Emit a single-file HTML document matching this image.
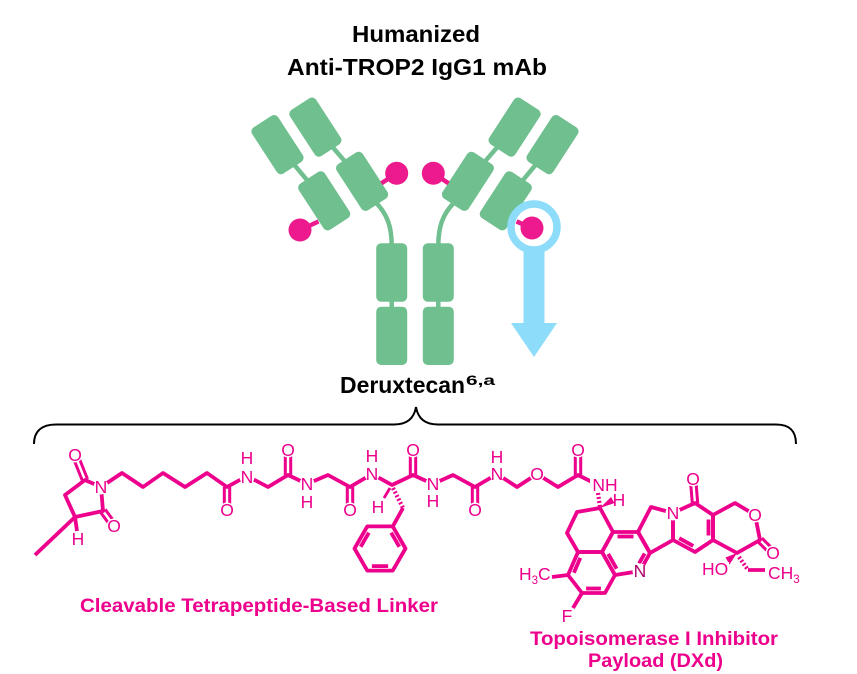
<!DOCTYPE html>
<html><head><meta charset="utf-8"><style>
html,body{margin:0;padding:0;background:#fff;}
svg{display:block;}
text{font-family:"Liberation Sans",Arial,sans-serif;}
</style></head><body>
<svg width="857" height="674" viewBox="0 0 857 674" xmlns="http://www.w3.org/2000/svg">
<rect width="857" height="674" fill="#fff"/>

<!-- Titles -->
<text x="352" y="42" font-size="23" font-weight="bold" fill="#000" textLength="128" lengthAdjust="spacingAndGlyphs">Humanized</text>
<text x="287" y="75" font-size="23" font-weight="bold" fill="#000" textLength="260" lengthAdjust="spacingAndGlyphs">Anti-TROP2 IgG1 mAb</text>

<!-- Antibody -->
<g stroke="#70bf8f" stroke-width="4.5" fill="none">
  <line x1="277.5" y1="144.6" x2="324.2" y2="200.8"/>
  <line x1="315.4" y1="127.1" x2="362.1" y2="181.3"/>
  <line x1="552.5" y1="144.6" x2="505.8" y2="200.8"/>
  <line x1="514.6" y1="127.1" x2="467.9" y2="181.3"/>
  <path d="M376.3,203 C388,215 391.7,228 391.7,246"/>
  <path d="M453.7,203 C442,215 438.3,228 438.3,246"/>
  <line x1="391.7" y1="298" x2="391.7" y2="310"/>
  <line x1="438.3" y1="298" x2="438.3" y2="310"/>
</g>
<g fill="#70bf8f">
  <rect x="-15.5" y="-27.5" width="31" height="55" rx="5" transform="translate(277.5,144.6) rotate(-33)"/>
  <rect x="-15.5" y="-27.5" width="31" height="55" rx="5" transform="translate(315.4,127.1) rotate(-33)"/>
  <rect x="-15.5" y="-27.5" width="31" height="55" rx="5" transform="translate(324.2,200.8) rotate(-33)"/>
  <rect x="-15.5" y="-27.5" width="31" height="55" rx="5" transform="translate(362.1,181.3) rotate(-33)"/>
  <rect x="-15.5" y="-27.5" width="31" height="55" rx="5" transform="translate(552.5,144.6) rotate(33)"/>
  <rect x="-15.5" y="-27.5" width="31" height="55" rx="5" transform="translate(514.6,127.1) rotate(33)"/>
  <rect x="-15.5" y="-27.5" width="31" height="55" rx="5" transform="translate(505.8,200.8) rotate(33)"/>
  <rect x="-15.5" y="-27.5" width="31" height="55" rx="5" transform="translate(467.9,181.3) rotate(33)"/>
  <rect x="376.2" y="243.3" width="31" height="58.4" rx="5"/>
  <rect x="376.2" y="306.7" width="31" height="58.3" rx="5"/>
  <rect x="422.8" y="243.3" width="31" height="58.4" rx="5"/>
  <rect x="422.8" y="306.7" width="31" height="58.3" rx="5"/>
</g>

<!-- Blue arrow -->
<rect x="523.5" y="240" width="21" height="86" fill="#8ddcfa"/>
<polygon points="511,323 557,323 534,357" fill="#8ddcfa"/>
<circle cx="534" cy="227" r="19.5" fill="#fff"/>
<circle cx="534" cy="227" r="23" fill="none" stroke="#8ddcfa" stroke-width="7.5"/>

<!-- Pink payload dots -->
<g stroke="#ec1a8c" stroke-width="4.5">
  <line x1="300" y1="230" x2="318.5" y2="221.5"/>
  <line x1="396.7" y1="173.3" x2="381.5" y2="183.3"/>
  <line x1="433.3" y1="173.3" x2="448.5" y2="183.3"/>
  <line x1="532" y1="228" x2="516.5" y2="221.5"/>
</g>
<g fill="#ec1a8c">
  <circle cx="300" cy="230" r="11.5"/>
  <circle cx="396.7" cy="173.3" r="11.5"/>
  <circle cx="433.3" cy="173.3" r="11.5"/>
  <circle cx="532" cy="228" r="11.5"/>
</g>

<!-- Deruxtecan label -->
<text x="340" y="393" font-size="23" font-weight="bold" fill="#000" textLength="125" lengthAdjust="spacingAndGlyphs">Deruxtecan</text>
<text x="466" y="385" font-size="14" font-weight="bold" fill="#000" textLength="29" lengthAdjust="spacingAndGlyphs">6,a</text>

<!-- Brace -->
<path d="M34,444 C34,431 42,424.5 56,424.5 L394,424.5 C406,424.5 414,419 416,407 C418,419 426,424.5 438,424.5 L776,424.5 C790,424.5 796,431 796,444" fill="none" stroke="#000" stroke-width="2"/>

<!-- Chemical structure -->
<g stroke="#ec008c" stroke-width="3.8" fill="none" stroke-linejoin="round">
  <!-- succinimide ring -->
  <polygon points="85,480 101,487 103,511 75,517 65,495"/>
  <line x1="75" y1="517" x2="35" y2="555"/>
  <line x1="75" y1="517" x2="77" y2="531"/>
  <!-- main chain -->
  <polyline points="101,487 122,473 143,487 163,473 185,487 207,473 227,487 247,476 268,487 288,475 307,484 328,475 350,487 372,474 392,485 413,475 433,484 453,475 475,487 497,474 517,487 537,474 558,487 578,475 598,485"/>
  <!-- phenylalanine side chain -->
  <line x1="403" y1="508" x2="392.75" y2="526.4"/>
  <polygon points="367.25,526.4 392.75,526.4 405.5,548.5 392.75,570.6 367.25,570.6 354.5,548.5"/>
  <line x1="391.15" y1="532.65" x2="399.3" y2="546.75"/>
  <line x1="371.85" y1="566.1" x2="388.15" y2="566.1"/>
  <line x1="360.7" y1="546.75" x2="368.85" y2="532.65"/>
  <line x1="390" y1="488" x2="384" y2="498" stroke-width="2.8"/>
</g>
<g stroke="#ec008c" stroke-width="3" fill="none">
  <!-- carbonyl doubles -->
  <line x1="87.5" y1="479" x2="77.5" y2="454"/>
  <line x1="82.5" y1="481" x2="72.5" y2="456"/>
  <line x1="105.2" y1="509.4" x2="116.2" y2="524.4"/>
  <line x1="100.8" y1="512.6" x2="111.8" y2="527.6"/>
  <line x1="224.3" y1="487" x2="224.3" y2="509"/>
  <line x1="229.7" y1="487" x2="229.7" y2="509"/>
  <line x1="285.3" y1="475" x2="285.3" y2="450"/>
  <line x1="290.7" y1="475" x2="290.7" y2="450"/>
  <line x1="347.3" y1="487" x2="347.3" y2="509"/>
  <line x1="352.7" y1="487" x2="352.7" y2="509"/>
  <line x1="410.3" y1="475" x2="410.3" y2="450"/>
  <line x1="415.7" y1="475" x2="415.7" y2="450"/>
  <line x1="472.3" y1="487" x2="472.3" y2="509"/>
  <line x1="477.7" y1="487" x2="477.7" y2="509"/>
  <line x1="575.3" y1="475" x2="575.3" y2="450"/>
  <line x1="580.7" y1="475" x2="580.7" y2="450"/>
  <!-- payload carbonyls -->
  <line x1="692.3" y1="503" x2="690.3" y2="479"/>
  <line x1="697.7" y1="503" x2="695.7" y2="479"/>
  <line x1="761.9" y1="538.1" x2="774.9" y2="551.1"/>
  <line x1="758.1" y1="541.9" x2="771.1" y2="554.9"/>
</g>
<g stroke="#ec008c" stroke-width="4.2" fill="none" stroke-dasharray="2 2">
  <line x1="393" y1="488" x2="403" y2="508"/>
  <line x1="598" y1="493" x2="600" y2="507"/>
  <line x1="739" y1="557" x2="748" y2="570"/>
</g>
<g stroke="#ec008c" stroke-width="3.8" fill="none" stroke-linejoin="round">
  <!-- payload rings -->
  <polygon points="600,508 577,512 567,533 578,552 602,552 613,532"/>
  <polygon points="578,552 602,552 615,575 605,593 582,593 568,575"/>
  <polygon points="602,552 613,532 638,532 650,553 640,571 615,575"/>
  <polygon points="638,532 651,507 673,513 673,540 650,553"/>
  <polygon points="673,513 695,503 713,515 713,540 695,552 673,540"/>
  <polygon points="713,515 735,503 755,515 760,540 737,553 713,540"/>
  <!-- inner aromatic lines -->
  <line x1="573.9" y1="572.7" x2="580.3" y2="557.9"/>
  <line x1="586.1" y1="588.5" x2="600.9" y2="588.5"/>
  <line x1="608.2" y1="553.9" x2="616.6" y2="568.7"/>
  <line x1="617.5" y1="536.5" x2="633.5" y2="536.5"/>
  <line x1="644.6" y1="553.5" x2="639.1" y2="563.4"/>
  <line x1="679.2" y1="538.2" x2="693.2" y2="545.9"/>
  <line x1="708.5" y1="519.5" x2="708.5" y2="535.5"/>
  <!-- substituents -->
  <line x1="568" y1="575" x2="552" y2="577"/>
  <line x1="582" y1="593" x2="573" y2="608"/>
  <line x1="748" y1="570" x2="765" y2="570"/>
</g>
<g fill="#ec008c">
  <polygon points="600,508 611,497 614.5,503"/>
  <polygon points="737,553 725.5,557.5 729.5,564.5"/>
</g>

<!-- label backgrounds -->
<g fill="#fff">
  <circle cx="75" cy="455" r="7.5"/><circle cx="101" cy="487" r="7.5"/><circle cx="114" cy="526" r="7.5"/><circle cx="78" cy="539" r="6.5"/>
  <circle cx="227" cy="510" r="7.5"/><circle cx="247" cy="477" r="7.5"/>
  <circle cx="288" cy="450" r="7.5"/><circle cx="307" cy="484" r="7.5"/>
  <circle cx="350" cy="510" r="7.5"/><circle cx="372" cy="474" r="7.5"/>
  <circle cx="413" cy="450" r="7.5"/><circle cx="433" cy="484" r="7.5"/>
  <circle cx="475" cy="510" r="7.5"/><circle cx="497" cy="474" r="7.5"/>
  <circle cx="537" cy="474" r="7.5"/><circle cx="578" cy="450" r="7.5"/>
  <rect x="590" y="477" width="28" height="15"/>
  <circle cx="640" cy="571" r="7.5"/><circle cx="673" cy="513" r="7.5"/>
  <circle cx="693" cy="479" r="7.5"/><circle cx="755" cy="515" r="7.5"/><circle cx="773" cy="553" r="7.5"/>
  <rect x="702" y="562" width="27" height="15"/>
  <rect x="767" y="563" width="32" height="18"/>
  <rect x="519" y="566" width="32" height="18"/>
  <circle cx="567" cy="616" r="7"/>
</g>

<!-- atom labels -->
<g font-size="17.5" fill="#ec008c" text-anchor="middle">
  <text x="75" y="461">O</text><text x="101" y="493">N</text><text x="114" y="532">O</text><text x="78" y="545">H</text>
  <text x="227" y="516">O</text><text x="247" y="483">N</text><text x="247" y="464">H</text>
  <text x="288" y="456">O</text><text x="307" y="490">N</text><text x="307" y="508">H</text>
  <text x="350" y="516">O</text><text x="372" y="480">N</text><text x="372" y="462">H</text>
  <text x="378" y="513">H</text>
  <text x="413" y="456">O</text><text x="433" y="490">N</text><text x="433" y="507">H</text>
  <text x="475" y="516">O</text><text x="497" y="480">N</text><text x="497" y="463">H</text>
  <text x="537" y="480">O</text>
  <text x="578" y="456">O</text>
  <text x="605" y="491">NH</text>
  <text x="619" y="506">H</text>
  <text x="640" y="577" fill="#b0006a">N</text>
  <text x="673" y="519">N</text>
  <text x="693" y="485">O</text>
  <text x="755" y="521">O</text>
  <text x="773" y="559">O</text>
  <text x="567" y="622">F</text>
</g>
<g font-size="17.5" fill="#ec008c">
  <text x="702" y="575">HO</text>
  <text x="768" y="579">CH<tspan font-size="11.5" dy="4">3</tspan></text>
  <text x="519" y="580">H<tspan font-size="11.5" dy="4">3</tspan><tspan dy="-4">C</tspan></text>
</g>

<!-- section labels -->
<text x="80" y="612" font-size="19" font-weight="bold" fill="#ec008c" textLength="358" lengthAdjust="spacingAndGlyphs">Cleavable Tetrapeptide-Based Linker</text>
<text x="530" y="645" font-size="19" font-weight="bold" fill="#ec008c" textLength="248" lengthAdjust="spacingAndGlyphs">Topoisomerase I Inhibitor</text>
<text x="588" y="667" font-size="19" font-weight="bold" fill="#ec008c" textLength="135" lengthAdjust="spacingAndGlyphs">Payload (DXd)</text>
</svg>
</body></html>
